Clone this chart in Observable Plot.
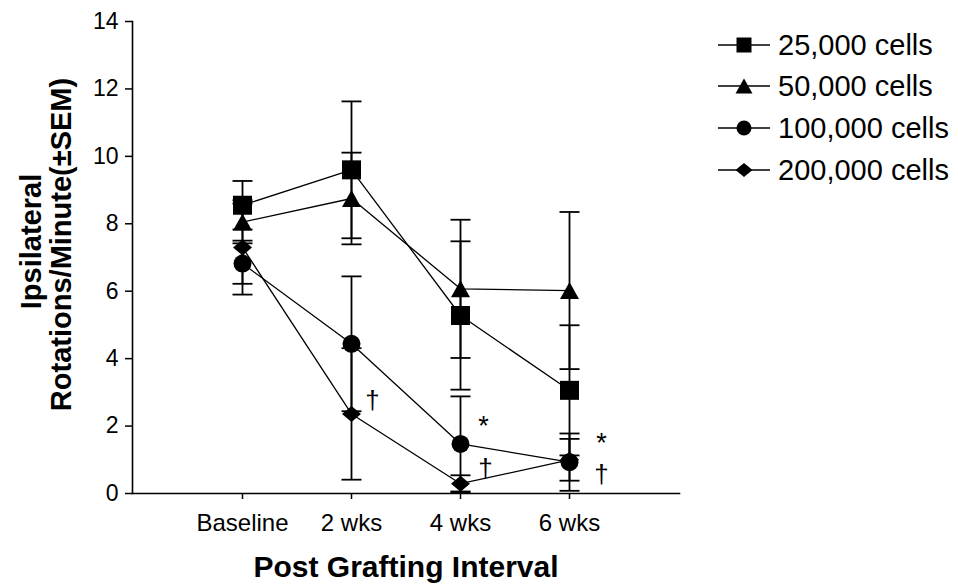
<!DOCTYPE html>
<html><head><meta charset="utf-8">
<script src="https://cdn.jsdelivr.net/npm/d3@7"></script>
<script src="https://cdn.jsdelivr.net/npm/@observablehq/plot@0.6"></script>
<style>
body{margin:0;background:#fff;}
#wrap{position:relative;width:958px;height:585px;font-family:"Liberation Sans",Arial,sans-serif;}
#legend{position:absolute;left:0;top:0;}
</style>
</head><body><div id="wrap"></div>
<script>
// ---- data ----
const categories = ["Baseline", "2 wks", "4 wks", "6 wks"];
const seriesNames = ["25,000 cells", "50,000 cells", "100,000 cells", "200,000 cells"];
const means25 = [8.55, 9.6, 5.28, 3.06];
const sem25   = [0.72, 2.03, 2.2, 1.93];
const means50 = [8.05, 8.75, 6.07, 6.02];
const sem50   = [0.55, 1.36, 2.05, 2.33];
const means100 = [6.82, 4.44, 1.47, 0.93];
const sem100   = [0.6, 2.0, 1.41, 0.85];
const means200 = [7.3, 2.36, 0.29, 1.0];
const sem200   = [1.4, 1.95, 0.25, 0.62];
const yTicks = [0, 2, 4, 6, 8, 10, 12, 14];
const annotCats = ["2 wks", "4 wks", "4 wks", "6 wks", "6 wks"];
const annotY    = [2.76, 1.98, 0.75, 1.48, 0.57];
const annotText = ["†", "*", "†", "*", "†"];
const xTitle = "Post Grafting Interval";
const yTitle1 = "Ipsilateral";
const yTitle2 = "Rotations/Minute(±SEM)";

// ---- symbols ----
const rectSym = (w, h) => ({draw(c){ c.rect(-w/2, -h/2, w, h); }});
const triSym = (w, h) => ({draw(c){ c.moveTo(0, -h/2); c.lineTo(w/2, h/2); c.lineTo(-w/2, h/2); c.closePath(); }});
const circSym = (r) => ({draw(c){ c.moveTo(r, 0); c.arc(0, 0, r, 0, 2*Math.PI); c.closePath(); }});
const diaSym = (w, h) => ({draw(c){ c.moveTo(0, -h/2); c.lineTo(w/2, 0); c.lineTo(0, h/2); c.lineTo(-w/2, 0); c.closePath(); }});
const capSym = {draw(c){ c.moveTo(-10, 0); c.lineTo(10, 0); }};

const allMeans = [means25, means50, means100, means200];
const allSem = [sem25, sem50, sem100, sem200];
const plotSymbols = [rectSym(19, 19), triSym(19, 17), circSym(9), diaSym(19, 16)];
const legendSymbols = [rectSym(15, 15), triSym(17, 15), circSym(7.5), diaSym(17, 14)];

const rows = [];
seriesNames.forEach((s, si) => categories.forEach((c, ci) => {
  rows.push({series: s, si, cat: c, mean: allMeans[si][ci], sem: allSem[si][ci]});
}));
const annots = annotCats.map((c, i) => ({cat: c, y: annotY[i], text: annotText[i]}));
const annotOffsets = [21, 23, 25, 32, 32];

const font = '"Liberation Sans", Arial, sans-serif';
const drawOrder = [3, 2, 1, 0];

const plot = Plot.plot({
  width: 958, height: 585,
  marginLeft: 132, marginRight: 279, marginTop: 21, marginBottom: 92,
  style: {fontFamily: font, color: "black", background: "white", overflow: "visible"},
  x: {type: "point", domain: categories, padding: 1, label: null},
  y: {domain: [0, 14], label: null},
  marks: [
    Plot.frame({anchor: "left", strokeWidth: 1.6}),
    Plot.frame({anchor: "bottom", strokeWidth: 1.6}),
    Plot.axisY({ticks: yTicks, tickSize: 7, tickPadding: 7, fontSize: 23, strokeWidth: 1.5, label: null}),
    Plot.axisX({tickSize: 6, tickPadding: 14, fontSize: 24, strokeWidth: 1.5, label: null}),
    Plot.line(rows, {x: "cat", y: "mean", z: "series", stroke: "black", strokeWidth: 1.3}),
    Plot.ruleX(rows, {x: "cat", y1: d => d.mean - d.sem, y2: d => d.mean + d.sem, stroke: "black", strokeWidth: 1.8}),
    Plot.dot(rows, {x: "cat", y: d => d.mean + d.sem, symbol: capSym, stroke: "black", fill: "none", strokeWidth: 1.8}),
    Plot.dot(rows, {x: "cat", y: d => d.mean - d.sem, symbol: capSym, stroke: "black", fill: "none", strokeWidth: 1.8}),
    ...drawOrder.map(si => Plot.dot(rows.filter(d => d.si === si), {x: "cat", y: "mean", symbol: plotSymbols[si], fill: "black", stroke: "none"})),
    ...annots.map((a, i) => Plot.text([a], {x: "cat", y: "y", text: "text", dx: annotOffsets[i], fontSize: a.text === "*" ? 27 : 26, lineAnchor: "middle"})),
    Plot.text([xTitle], {frameAnchor: "bottom", text: d => d, dy: 74, fontSize: 30, fontWeight: "bold", lineAnchor: "middle", textAnchor: "middle"}),
    Plot.text([yTitle1], {frameAnchor: "left", text: d => d, dx: -101, dy: -16, rotate: -90, fontSize: 29, fontWeight: "bold", lineAnchor: "middle", textAnchor: "middle"}),
    Plot.text([yTitle2], {frameAnchor: "left", text: d => d, dx: -71, dy: -13, rotate: -90, fontSize: 29, fontWeight: "bold", lineAnchor: "middle", textAnchor: "middle"})
  ]
});
document.getElementById("wrap").appendChild(plot);

// ---- legend ----
const leg = d3.select("#wrap").append("svg").attr("id", "legend").attr("width", 958).attr("height", 585);
const rowY = [45, 86, 128, 170];
seriesNames.forEach((s, si) => {
  const g = leg.append("g").attr("transform", `translate(0,${rowY[si]})`);
  g.append("line").attr("x1", 718).attr("x2", 770).attr("y1", 0).attr("y2", 0).attr("stroke", "black").attr("stroke-width", 1.6);
  const p = d3.path(); legendSymbols[si].draw(p);
  g.append("path").attr("d", p.toString()).attr("transform", "translate(744,0)").attr("fill", "black");
  g.append("text").attr("x", 778).attr("y", 0).attr("dy", "0.35em").attr("font-family", font).attr("font-size", 29).text(s);
});
</script></body></html>
